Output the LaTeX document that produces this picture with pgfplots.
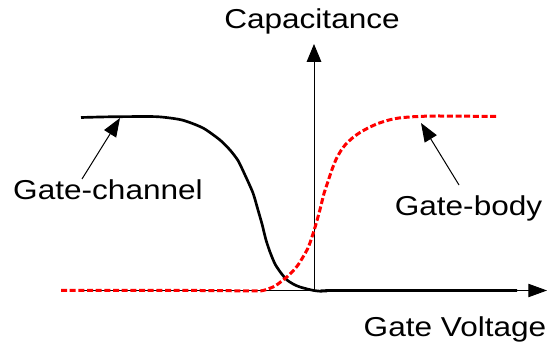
\documentclass[border=0pt]{standalone}
\usepackage{pgfplots}
\pgfplotsset{compat=1.18}
\usepackage{graphicx}
\usepackage{fontspec}
\setmainfont{Liberation Sans}
\usetikzlibrary{arrows.meta}

% wide sans labels
\newcommand{\lbl}[1]{\scalebox{1.155}[1]{\fontsize{20.5}{24}\selectfont #1}}

\begin{document}
\begin{tikzpicture}
\useasboundingbox (0,0) rectangle (411.75pt,261.75pt);
\begin{axis}[
  at={(0,0)}, anchor=south west,
  scale only axis, width=411.75pt, height=261.75pt,
  xmin=-314, xmax=235, ymin=-58.5, ymax=290.5,
  hide axis, clip=false,
]
% coordinate axes
\draw[line width=0.75pt, -{Triangle[length=13.5pt,width=11pt]}]
  (axis cs:0,0) -- (axis cs:0,246.5);
\draw[line width=0.75pt, -{Triangle[length=14pt,width=10pt]}]
  (axis cs:-231,0) -- (axis cs:233,0);

% gate-channel capacitance
\addplot[black, line width=2pt, smooth, tension=0.4] coordinates {
  (-233,173) (-214,173.5) (-195,173.8) (-157,173.8) (-132,170.5)
  (-111,162.5) (-94,150.5) (-84,140.5) (-76,130) (-69,115.5)
  (-61,97.5) (-56,80.5) (-52,66.5) (-48,50.5) (-44,38.5)
  (-39,26.5) (-33,17.5) (-27,10.5) (-20,6) (-14,3.5)
  (-6,1.3) (0,0) (6,-0.7) (13,-0.5) (21,0) (203,0)
};

% gate-body capacitance
\addplot[red, line width=2.25pt, dash pattern=on 4.5pt off 2pt, smooth, tension=0.4] coordinates {
  (-253,0) (-114,0) (-59,-0.5) (-51,0) (-46,1.5) (-41,3.5)
  (-36,6.5) (-31,10.5) (-26,14.5) (-21,19.5) (-16,25.5) (-11,33.5)
  (-6,42.5) (-2,53.5) (2,66.5) (6,81) (10,97) (14,109)
  (18,121) (22,131) (27,140) (32,146.5) (39,153) (46,158)
  (55,163) (64,167) (75,170.5) (85,172.5) (100,173.8) (123,174.5) (183,174)
};

% annotations
\draw[line width=0.75pt, -{Triangle[length=14pt,width=10.5pt]}]
  (axis cs:-232,111.5) -- (axis cs:-194,172.5);
\draw[line width=0.75pt, -{Triangle[length=14pt,width=10.5pt]}]
  (axis cs:145,105.5) -- (axis cs:107,167.5);

\node[anchor=base, inner sep=0pt] at (axis cs:-2,262) {\lbl{Capacitance}};
\node[anchor=base, inner sep=0pt] at (axis cs:141,-46.5) {\lbl{Gate Voltage}};
\node[anchor=base, inner sep=0pt] at (axis cs:-206,90.5) {\lbl{Gate-channel}};
\node[anchor=base, inner sep=0pt] at (axis cs:154.5,74.5) {\lbl{Gate-body}};
\end{axis}
\end{tikzpicture}
\end{document}
